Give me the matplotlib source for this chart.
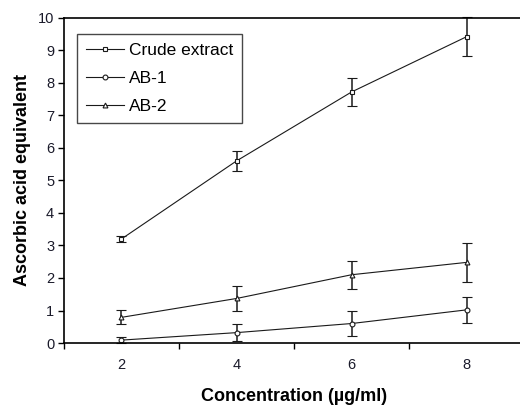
import matplotlib.pyplot as plt
from matplotlib.lines import Line2D

plt.rcParams['font.family'] = ['Liberation Sans', 'DejaVu Sans']

# Data
conc = [2, 4, 6, 8]
crude = [3.2, 5.6, 7.72, 9.42]
crude_err = [0.1, 0.3, 0.42, 0.6]
ab1 = [0.09, 0.32, 0.6, 1.02]
ab1_err = [0.1, 0.27, 0.37, 0.4]
ab2 = [0.79, 1.37, 2.1, 2.48]
ab2_err = [0.22, 0.38, 0.43, 0.6]

fig = plt.figure(figsize=(5.2, 4.05), dpi=100)
ax = fig.add_axes([0.123, 0.153, 0.885, 0.803])

series = [
    ('Crude extract', crude, crude_err, 's'),
    ('AB-1', ab1, ab1_err, 'o'),
    ('AB-2', ab2, ab2_err, '^'),
]
handles = []
for name, vals, err, mk in series:
    ax.errorbar(conc, vals, yerr=err, color='#1a1a1a', linewidth=0.8,
                marker=mk, markersize=3.5, markerfacecolor='white',
                markeredgewidth=0.8, elinewidth=1.1, capsize=3.5,
                capthick=1.1, clip_on=False)
    handles.append(Line2D([], [], color='#1a1a1a', linewidth=0.8, marker=mk,
                          markersize=3.5, markerfacecolor='white',
                          markeredgewidth=0.8, label=name))

ax.set_xlim(1, 9)
ax.set_ylim(0, 10)
ax.set_xticks([1, 3, 5, 7, 9])
ax.set_xticklabels([])
ax.set_xticks(conc, minor=True)
ax.set_xticklabels([str(c) for c in conc], minor=True)
ax.tick_params(axis='x', which='minor', length=0, pad=11)
ax.tick_params(axis='x', which='major', length=4, width=1)
ax.set_yticks(range(0, 11))
ax.tick_params(axis='y', length=4, width=1, pad=3)
ax.tick_params(which='both', labelsize=10.5, labelcolor='#1a1a2a')

for side in ['left', 'bottom', 'top']:
    ax.spines[side].set_linewidth(1.2)
ax.spines['right'].set_visible(False)

ax.set_xlabel('Concentration (\u00b5g/ml)', fontsize=13, fontweight='bold',
              labelpad=11)
ax.set_ylabel('Ascorbic acid equivalent', fontsize=13, fontweight='bold',
              labelpad=5)

leg = ax.legend(handles=handles, loc='upper left',
                bbox_to_anchor=(0.028, 0.951), borderaxespad=0,
                fontsize=12.5, frameon=True, fancybox=False,
                edgecolor='#1a1a1a', handlelength=2.2, handletextpad=0.3,
                labelspacing=0.75, borderpad=0.5)
leg.get_frame().set_linewidth(1.0)

fig.savefig('out.png', dpi=100, facecolor='white')
